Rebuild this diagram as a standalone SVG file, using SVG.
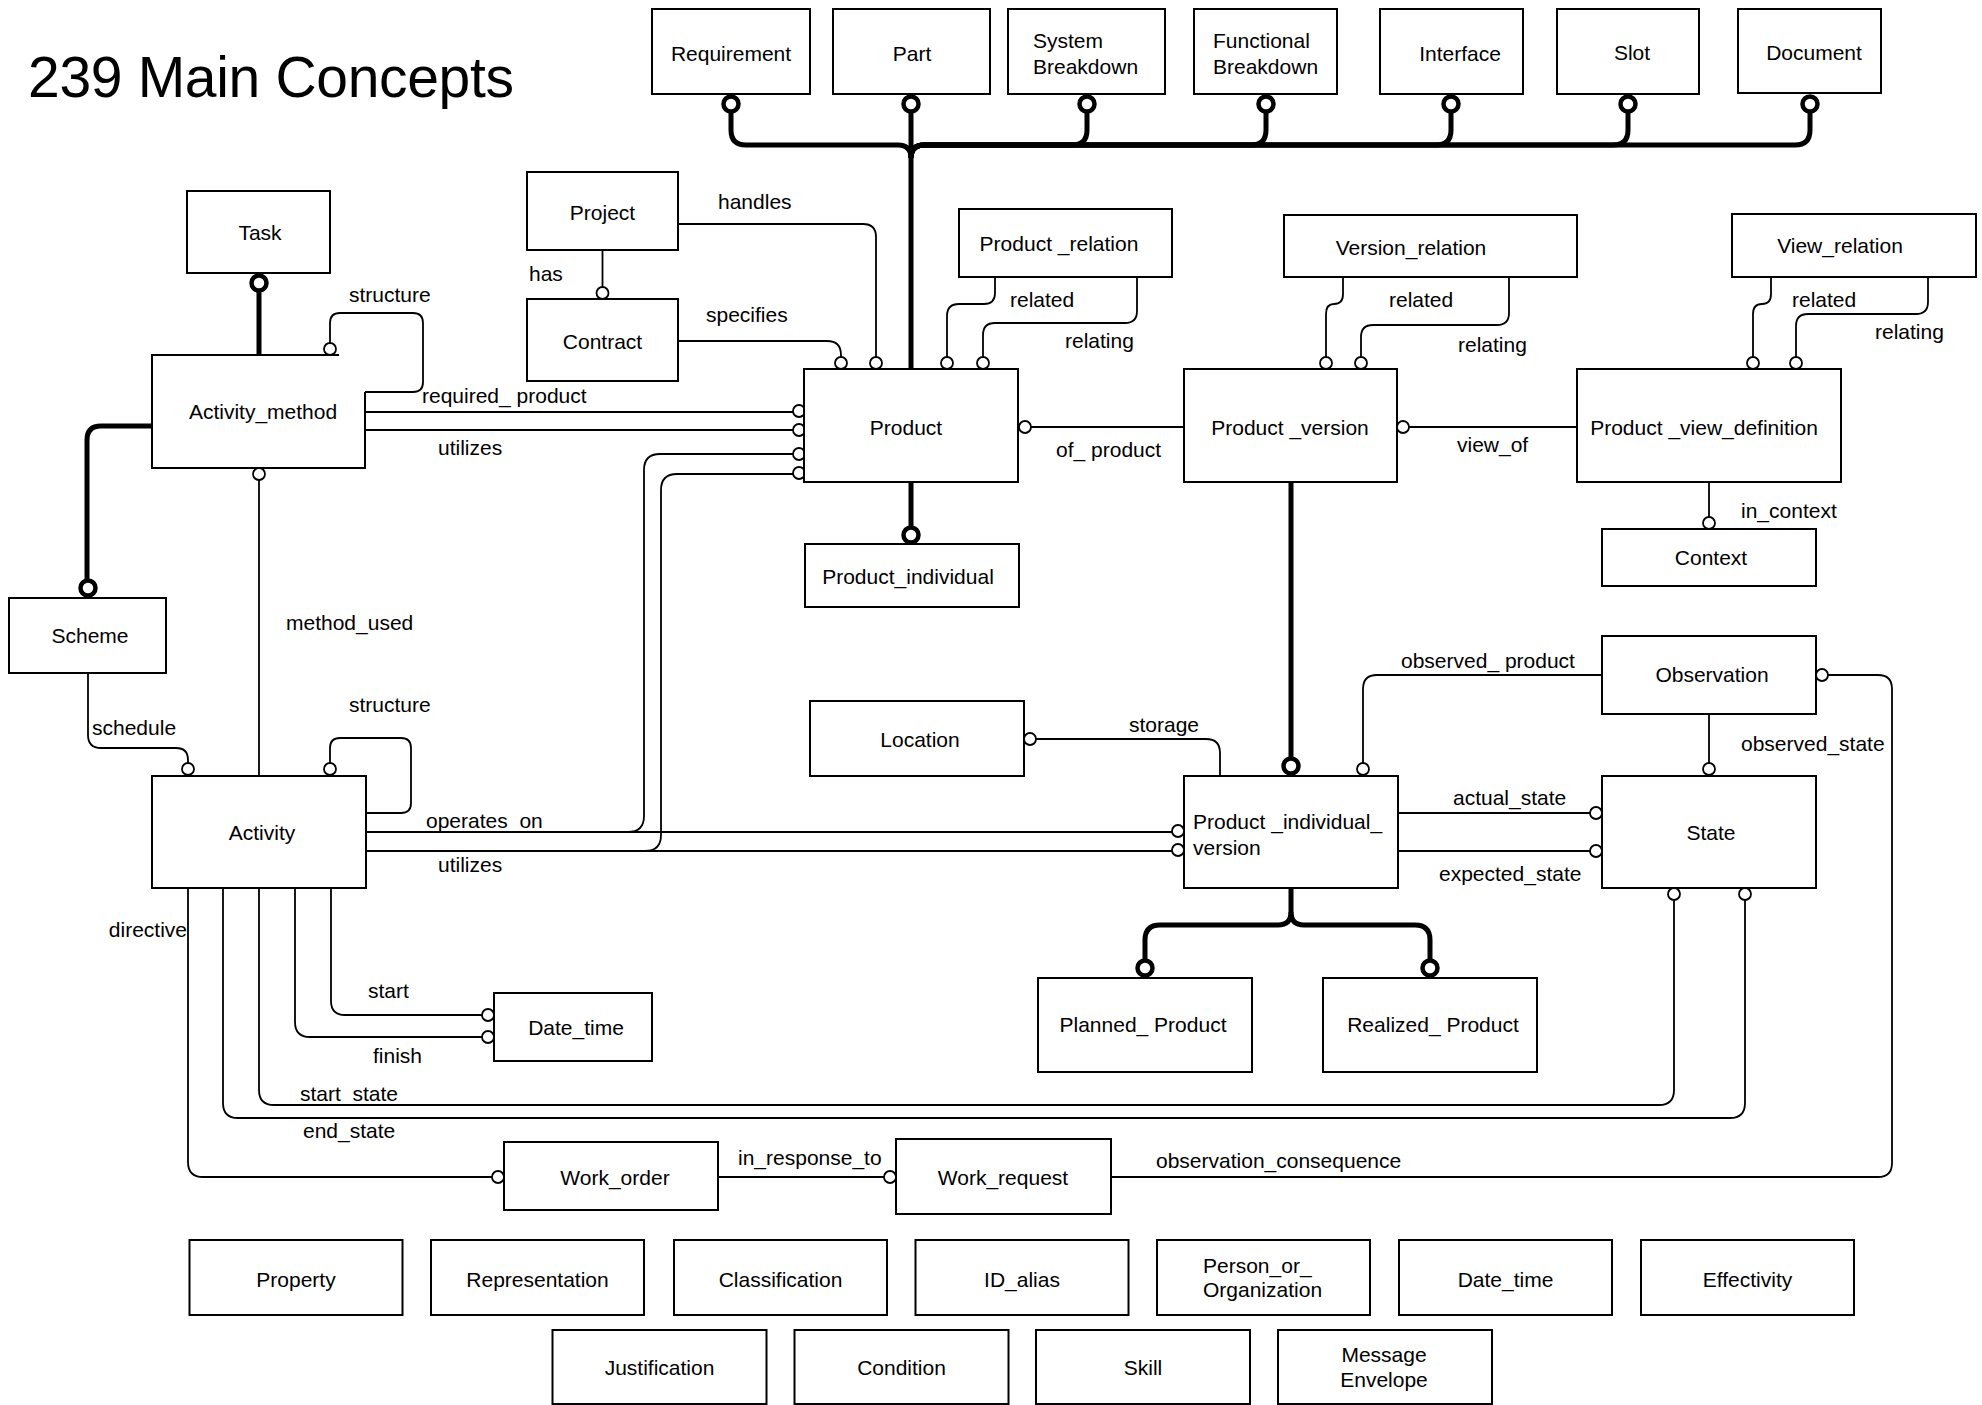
<svg xmlns="http://www.w3.org/2000/svg" width="1982" height="1405" viewBox="0 0 1982 1405">
<style>
.box{fill:#fff;stroke:#000;stroke-width:2}
.ln{fill:none;stroke:#000;stroke-width:1.8}
.tk{fill:none;stroke:#000;stroke-width:5}
.oc{fill:#fff;stroke:#000;stroke-width:1.8}
.rg{fill:#fff;stroke:#000;stroke-width:4.5}
text{font-family:"Liberation Sans",Arial,sans-serif;font-size:21px;fill:#000}
.c{text-anchor:middle}
.title{font-size:57px}
</style>
<rect width="1982" height="1405" fill="#fff"/>
<text class="title" x="28" y="97" textLength="486">239 Main Concepts</text>

<g id="connectors">
  <!-- top bus -->
  <path class="tk" d="M911,113 V369"/>
  <path class="tk" d="M911,158 Q911,145 898,145 H746 Q731,145 731,130 V113"/>
  <path class="tk" d="M911,158 Q911,145 924,145 H1072 Q1087,145 1087,130 V113"/>
  <path class="tk" d="M911,158 Q911,145 924,145 H1251 Q1266,145 1266,130 V113"/>
  <path class="tk" d="M911,158 Q911,145 924,145 H1436 Q1451,145 1451,130 V113"/>
  <path class="tk" d="M911,158 Q911,145 924,145 H1613 Q1628,145 1628,130 V113"/>
  <path class="tk" d="M911,158 Q911,145 924,145 H1795 Q1810,145 1810,130 V113"/>
  <circle class="rg" cx="731" cy="104" r="7.5"/>
  <circle class="rg" cx="911" cy="104" r="7.5"/>
  <circle class="rg" cx="1087" cy="104" r="7.5"/>
  <circle class="rg" cx="1266" cy="104" r="7.5"/>
  <circle class="rg" cx="1451" cy="104" r="7.5"/>
  <circle class="rg" cx="1628" cy="104" r="7.5"/>
  <circle class="rg" cx="1810" cy="104" r="7.5"/>

  <!-- Project/Contract -->
  <path class="ln" d="M602.5,250 V287"/>
  <circle class="oc" cx="602.5" cy="293" r="6"/>
  <text x="529" y="281">has</text>
  <path class="ln" d="M678,224 H863 Q876,224 876,237 V357"/>
  <circle class="oc" cx="876" cy="363" r="6"/>
  <text x="718" y="209">handles</text>
  <path class="ln" d="M678,341 H827 Q841,341 841,355 V357"/>
  <circle class="oc" cx="841" cy="363" r="6"/>
  <text x="706" y="322">specifies</text>

  <!-- Product_relation -->
  <path class="ln" d="M995,277 V293 Q995,304 984,304 H959 Q947,304 947,316 V357"/>
  <circle class="oc" cx="947" cy="363" r="6"/>
  <text x="1010" y="307">related</text>
  <path class="ln" d="M1137,277 V311 Q1137,323 1125,323 H995 Q983,323 983,335 V357"/>
  <circle class="oc" cx="983" cy="363" r="6"/>
  <text x="1065" y="348">relating</text>

  <!-- of_product / view_of -->
  <path class="ln" d="M1031,427 H1184"/>
  <circle class="oc" cx="1025" cy="427" r="6"/>
  <text x="1056" y="457">of_ product</text>
  <path class="ln" d="M1409,427 H1577"/>
  <circle class="oc" cx="1403" cy="427" r="6"/>
  <text x="1457" y="452">view_of</text>

  <!-- Version_relation -->
  <path class="ln" d="M1343,277 V294 Q1343,304 1334,304 Q1326,304 1326,314 V357"/>
  <circle class="oc" cx="1326" cy="363" r="6"/>
  <text x="1389" y="307">related</text>
  <path class="ln" d="M1509,277 V313 Q1509,325 1497,325 H1373 Q1361,325 1361,337 V357"/>
  <circle class="oc" cx="1361" cy="363" r="6"/>
  <text x="1458" y="352">relating</text>

  <!-- View_relation -->
  <path class="ln" d="M1771,277 V294 Q1771,304 1762,304 Q1753,304 1753,314 V357"/>
  <circle class="oc" cx="1753" cy="363" r="6"/>
  <text x="1792" y="307">related</text>
  <path class="ln" d="M1928,277 V302 Q1928,314 1916,314 H1808 Q1796,314 1796,326 V357"/>
  <circle class="oc" cx="1796" cy="363" r="6"/>
  <text x="1875" y="339">relating</text>

  <!-- in_context -->
  <path class="ln" d="M1709,482 V517"/>
  <circle class="oc" cx="1709" cy="523" r="6"/>
  <text x="1741" y="518">in_context</text>

  <!-- Observation -->
  <path class="ln" d="M1828,675 H1878 Q1892,675 1892,689 V1163 Q1892,1177 1878,1177 H1111"/>
  <circle class="oc" cx="1822" cy="675" r="6"/>
  <text x="1156" y="1168">observation_consequence</text>
  <path class="ln" d="M1602,675 H1377 Q1363,675 1363,689 V763"/>
  <circle class="oc" cx="1363" cy="769" r="6"/>
  <text x="1401" y="668">observed_ product</text>
  <path class="ln" d="M1709,714 V763"/>
  <circle class="oc" cx="1709" cy="769" r="6"/>
  <text x="1741" y="751">observed_state</text>

  <!-- State -->
  <path class="ln" d="M1398,813 H1590"/>
  <circle class="oc" cx="1596" cy="813" r="6"/>
  <text x="1453" y="805">actual_state</text>
  <path class="ln" d="M1398,851 H1590"/>
  <circle class="oc" cx="1596" cy="851" r="6"/>
  <text x="1439" y="881">expected_state</text>

  <!-- thick product hierarchy -->
  <path class="tk" d="M1291,482 V757"/>
  <circle class="rg" cx="1291" cy="766" r="7.5"/>
  <path class="tk" d="M911,483 V526"/>
  <circle class="rg" cx="911" cy="535" r="7.5"/>
  <path class="tk" d="M1291,888 V912 Q1291,925 1278,925 H1160 Q1145,925 1145,940 V959"/>
  <path class="tk" d="M1291,912 Q1291,925 1304,925 H1415 Q1430,925 1430,940 V959"/>
  <circle class="rg" cx="1145" cy="968" r="7.5"/>
  <circle class="rg" cx="1430" cy="968" r="7.5"/>

  <!-- storage -->
  <path class="ln" d="M1036,739 H1206 Q1220,739 1220,753 V776"/>
  <circle class="oc" cx="1030" cy="739" r="6"/>
  <text x="1129" y="732">storage</text>

  <!-- Task / Activity_method -->
  <path class="tk" d="M259,291 V355"/>
  <circle class="rg" cx="259" cy="283" r="7.5"/>
  <path class="ln" d="M330,343 V323 Q330,313 340,313 H413 Q423,313 423,323 V382 Q423,392 413,392 H365"/>
  <circle class="oc" cx="330" cy="349" r="6"/>
  <text x="349" y="302">structure</text>
  <path class="ln" d="M365,412 H793"/>
  <circle class="oc" cx="799" cy="411" r="6"/>
  <text x="422" y="403">required_ product</text>
  <path class="ln" d="M365,430 H793"/>
  <circle class="oc" cx="799" cy="430" r="6"/>
  <text x="438" y="455">utilizes</text>
  <path class="tk" d="M152,426 H101 Q87,426 87,440 V579"/>
  <circle class="rg" cx="88" cy="588" r="7.5"/>

  <!-- schedule / method_used -->
  <path class="ln" d="M88,673 V735 Q88,748 101,748 H176 Q188,748 188,760 V763"/>
  <circle class="oc" cx="188" cy="769" r="6"/>
  <text x="92" y="735">schedule</text>
  <path class="ln" d="M259,480 V776"/>
  <circle class="oc" cx="259" cy="474" r="6"/>
  <text x="286" y="630">method_used</text>

  <!-- Activity structure -->
  <path class="ln" d="M330,763 V748 Q330,738 340,738 H401 Q411,738 411,748 V803 Q411,813 401,813 H366"/>
  <circle class="oc" cx="330" cy="769" r="6"/>
  <text x="349" y="712">structure</text>

  <!-- operates_on / utilizes -->
  <path class="ln" d="M366,832 H1172"/>
  <path class="ln" d="M628,832 Q644,832 644,816 V470 Q644,454 660,454 H793"/>
  <circle class="oc" cx="1178" cy="831" r="6"/>
  <circle class="oc" cx="799" cy="454" r="6"/>
  <text x="426" y="828">operates_on</text>
  <path class="ln" d="M366,851 H1172"/>
  <path class="ln" d="M645,851 Q661,851 661,835 V490 Q661,474 677,474 H793"/>
  <circle class="oc" cx="1178" cy="850" r="6"/>
  <circle class="oc" cx="799" cy="473" r="6"/>
  <text x="438" y="872">utilizes</text>

  <!-- Activity bottom lines -->
  <path class="ln" d="M188,888 V1162 Q188,1177 203,1177 H492"/>
  <circle class="oc" cx="498" cy="1177" r="6"/>
  <text x="187" y="937" text-anchor="end">directive</text>
  <path class="ln" d="M223,888 V1103 Q223,1118 238,1118 H1730 Q1745,1118 1745,1103 V900"/>
  <circle class="oc" cx="1745" cy="894" r="6"/>
  <text x="303" y="1138">end_state</text>
  <path class="ln" d="M259,888 V1090 Q259,1105 274,1105 H1659 Q1674,1105 1674,1090 V900"/>
  <circle class="oc" cx="1674" cy="894" r="6"/>
  <text x="300" y="1101">start_state</text>
  <path class="ln" d="M295,888 V1022 Q295,1037 310,1037 H482"/>
  <circle class="oc" cx="488" cy="1037" r="6"/>
  <text x="373" y="1063">finish</text>
  <path class="ln" d="M331,888 V1001 Q331,1015 345,1015 H482"/>
  <circle class="oc" cx="488" cy="1015" r="6"/>
  <text x="368" y="998">start</text>

  <!-- Work order -->
  <path class="ln" d="M718,1177 H884"/>
  <circle class="oc" cx="890" cy="1177" r="6"/>
  <text x="738" y="1165">in_response_to</text>
</g>

<g id="Requirement"><rect class="box" x="652" y="9" width="158" height="85"/><text class="c" x="731" y="61">Requirement</text></g>
<g id="Part"><rect class="box" x="833" y="9" width="157" height="85"/><text class="c" x="912" y="61">Part</text></g>
<g id="SystemBreakdown"><rect class="box" x="1008" y="9" width="157" height="85"/><text x="1033" y="48">System</text><text x="1033" y="74">Breakdown</text></g>
<g id="FunctionalBreakdown"><rect class="box" x="1194" y="9" width="143" height="85"/><text x="1213" y="48">Functional</text><text x="1213" y="74">Breakdown</text></g>
<g id="Interface"><rect class="box" x="1380" y="9" width="143" height="85"/><text class="c" x="1460" y="61">Interface</text></g>
<g id="Slot"><rect class="box" x="1557" y="9" width="142" height="85"/><text class="c" x="1632" y="60">Slot</text></g>
<g id="Document"><rect class="box" x="1738" y="9" width="143" height="84"/><text class="c" x="1814" y="60">Document</text></g>

<g id="Project"><rect class="box" x="527" y="172" width="151" height="78"/><text class="c" x="602.5" y="220">Project</text></g>
<g id="Contract"><rect class="box" x="527" y="299" width="151" height="82"/><text class="c" x="602.5" y="349">Contract</text></g>
<g id="Product"><rect class="box" x="804" y="369" width="214" height="113"/><text class="c" x="906" y="435">Product</text></g>
<g id="Product_relation"><rect class="box" x="959" y="209" width="213" height="68"/><text class="c" x="1059" y="251">Product _relation</text></g>
<g id="Product_version"><rect class="box" x="1184" y="369" width="213" height="113"/><text class="c" x="1290" y="435">Product _version</text></g>
<g id="Version_relation"><rect class="box" x="1284" y="215" width="293" height="62"/><text class="c" x="1411" y="255">Version_relation</text></g>
<g id="Product_view_definition"><rect class="box" x="1577" y="369" width="264" height="113"/><text class="c" x="1704" y="435">Product _view_definition</text></g>
<g id="View_relation"><rect class="box" x="1732" y="214" width="244" height="63"/><text class="c" x="1840" y="253">View_relation</text></g>
<g id="Context"><rect class="box" x="1602" y="529" width="214" height="57"/><text class="c" x="1711" y="565">Context</text></g>
<g id="Product_individual"><rect class="box" x="805" y="544" width="214" height="63"/><text class="c" x="908" y="584">Product_individual</text></g>
<g id="Location"><rect class="box" x="810" y="701" width="214" height="75"/><text class="c" x="920" y="747">Location</text></g>
<g id="Observation"><rect class="box" x="1602" y="636" width="214" height="78"/><text class="c" x="1712" y="682">Observation</text></g>
<g id="State"><rect class="box" x="1602" y="776" width="214" height="112"/><text class="c" x="1711" y="840">State</text></g>
<g id="Product_individual_version"><rect class="box" x="1184" y="776" width="214" height="112"/><text x="1193" y="829">Product _individual_</text><text x="1193" y="855">version</text></g>
<g id="Planned_Product"><rect class="box" x="1038" y="978" width="214" height="94"/><text class="c" x="1143" y="1032">Planned_ Product</text></g>
<g id="Realized_Product"><rect class="box" x="1323" y="978" width="214" height="94"/><text class="c" x="1433" y="1032">Realized_ Product</text></g>
<g id="Task"><rect class="box" x="187" y="191" width="143" height="82"/><text class="c" x="260" y="240">Task</text></g>
<g id="Activity_method"><path class="box" fill="none" d="M339,355 H152 V468 H365 V392"/><text class="c" x="263" y="419">Activity_method</text></g>
<g id="Scheme"><rect class="box" x="9" y="598" width="157" height="75"/><text class="c" x="90" y="643">Scheme</text></g>
<g id="Activity"><rect class="box" x="152" y="776" width="214" height="112"/><text class="c" x="262" y="840">Activity</text></g>
<g id="Date_time_1"><rect class="box" x="494" y="993" width="158" height="68"/><text class="c" x="576" y="1035">Date_time</text></g>
<g id="Work_order"><rect class="box" x="504" y="1142" width="214" height="68"/><text class="c" x="615" y="1185">Work_order</text></g>
<g id="Work_request"><rect class="box" x="896" y="1139" width="215" height="75"/><text class="c" x="1003" y="1185">Work_request</text></g>

<g id="Property"><rect class="box" x="189.5" y="1240" width="213" height="75"/><text class="c" x="296" y="1287">Property</text></g>
<g id="Representation"><rect class="box" x="431" y="1240" width="213" height="75"/><text class="c" x="537.5" y="1287">Representation</text></g>
<g id="Classification"><rect class="box" x="674" y="1240" width="213" height="75"/><text class="c" x="780.5" y="1287">Classification</text></g>
<g id="ID_alias"><rect class="box" x="915.5" y="1240" width="213" height="75"/><text class="c" x="1022" y="1287">ID_alias</text></g>
<g id="Person_or_Organization"><rect class="box" x="1157" y="1240" width="213" height="75"/><text x="1203" y="1273">Person_or_</text><text x="1203" y="1297">Organization</text></g>
<g id="Date_time_2"><rect class="box" x="1399" y="1240" width="213" height="75"/><text class="c" x="1505.5" y="1287">Date_time</text></g>
<g id="Effectivity"><rect class="box" x="1641" y="1240" width="213" height="75"/><text class="c" x="1747.5" y="1287">Effectivity</text></g>
<g id="Justification"><rect class="box" x="552.5" y="1330" width="214" height="74"/><text class="c" x="659.5" y="1375">Justification</text></g>
<g id="Condition"><rect class="box" x="794.5" y="1330" width="214" height="74"/><text class="c" x="901.5" y="1375">Condition</text></g>
<g id="Skill"><rect class="box" x="1036" y="1330" width="214" height="74"/><text class="c" x="1143" y="1375">Skill</text></g>
<g id="Message_Envelope"><rect class="box" x="1278" y="1330" width="214" height="74"/><text class="c" x="1384" y="1362">Message</text><text class="c" x="1384" y="1387">Envelope</text></g>
</svg>
